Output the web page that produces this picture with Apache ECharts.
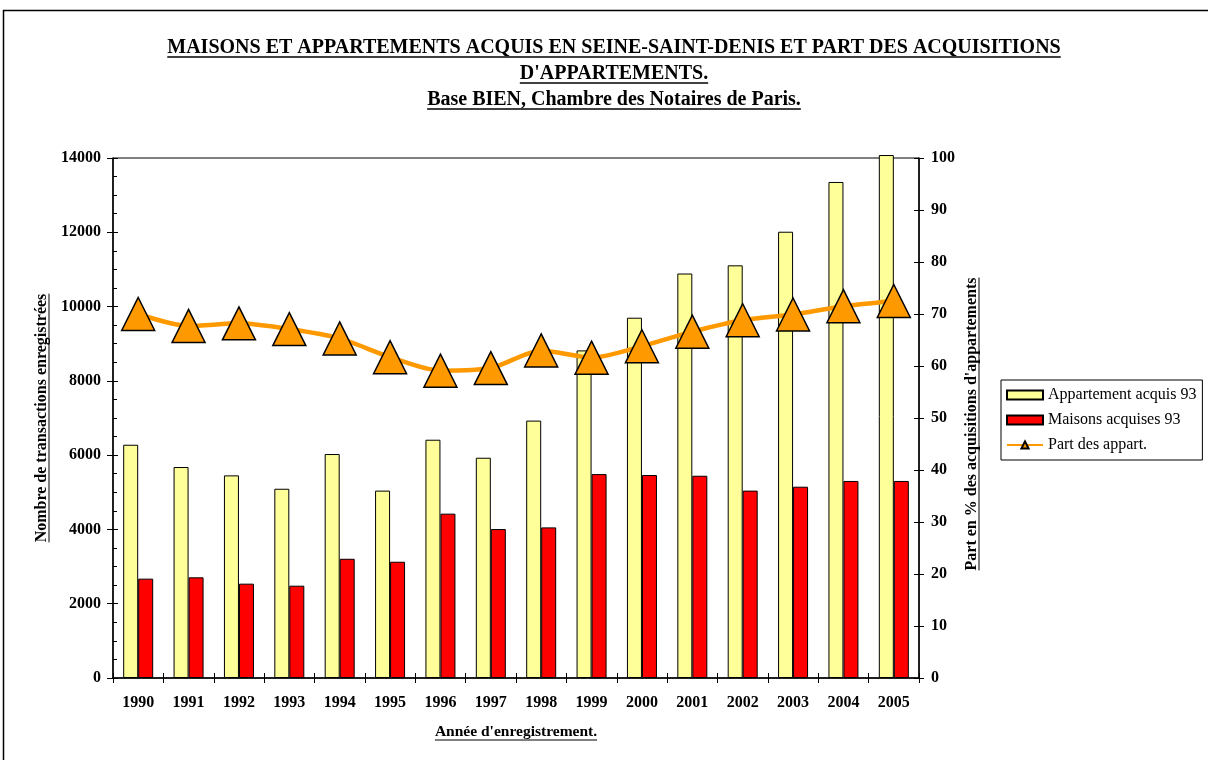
<!DOCTYPE html>
<html>
<head>
<meta charset="utf-8">
<script src="https://cdn.jsdelivr.net/npm/echarts@6/dist/echarts.min.js"></script>
<style>html,body{margin:0;padding:0;background:#fff;}#chart{width:1208px;height:760px;}</style>
</head>
<body>
<div id="chart"></div>
<script>
const years = ['1990','1991','1992','1993','1994','1995','1996','1997','1998','1999','2000','2001','2002','2003','2004','2005'];
const apparts = [6280, 5680, 5455, 5095, 6030, 5045, 6415, 5930, 6930, 8820, 9700, 10890, 11110, 12015, 13355, 14080];
const maisons = [2675, 2710, 2540, 2485, 3210, 3130, 4425, 4010, 4055, 5490, 5465, 5445, 5045, 5150, 5305, 5305];
const partAppart = [70.0, 67.7, 68.2, 67.1, 65.3, 61.7, 59.1, 59.6, 63.0, 61.6, 63.8, 66.6, 68.8, 69.9, 71.5, 72.5];

const titleLines = ["MAISONS ET APPARTEMENTS ACQUIS EN SEINE-SAINT-DENIS ET PART DES ACQUISITIONS", "D'APPARTEMENTS.", "Base BIEN, Chambre des Notaires de Paris."];
const leftName = "Nombre de transactions enregistrées";
const rightName = "Part en % des acquisitions d'appartements";
const xName = "Année d'enregistrement.";

const SERIF = '"Liberation Serif", "Times New Roman", serif';
const mctx = document.createElement('canvas').getContext('2d');
function measure(t, f){ mctx.font = f; return mctx.measureText(t).width; }

function underlined(text, size, cx, cy, vertical, ulOff, ulWidth){
  const font = 'bold ' + size + 'px ' + SERIF;
  const w = measure(text, font);
  const els = [];
  els.push({type:'text', x:cx, y:cy, rotation: vertical ? Math.PI/2 : 0, silent:true,
    style:{text:text, fontFamily:SERIF, fontWeight:'bold', fontSize:size, fill:'#000',
           textAlign:'center', textVerticalAlign:'middle', align:'center', verticalAlign:'middle'}});
  const lw = ulWidth || 1;
  if (vertical){
    els.push({type:'line', silent:true, shape:{x1:cx+ulOff, y1:cy-w/2, x2:cx+ulOff, y2:cy+w/2}, style:{stroke:'#000', lineWidth:lw}});
  } else {
    els.push({type:'line', silent:true, shape:{x1:cx-w/2, y1:cy+ulOff, x2:cx+w/2, y2:cy+ulOff}, style:{stroke:'#000', lineWidth:lw}});
  }
  return els;
}

let graphics = [{type:'rect', silent:true, z:-10, shape:{x:3.5, y:10.5, width:1300, height:800}, style:{fill:'none', stroke:'#000', lineWidth:1.5}}];
graphics = graphics.concat(underlined(titleLines[0], 20, 614, 48, false, 9, 1.5));
graphics = graphics.concat(underlined(titleLines[1], 20, 614, 74, false, 9, 1.5));
graphics = graphics.concat(underlined(titleLines[2], 20, 614, 100, false, 9, 1.5));
graphics = graphics.concat(underlined(leftName, 16, 42, 418, true, 7, 1));
graphics = graphics.concat(underlined(rightName, 16, 972, 424, true, 7, 1));
graphics = graphics.concat(underlined(xName, 15.5, 516, 732, false, 8, 1));

const lbl = {fontFamily: SERIF, fontWeight:'bold', fontSize:16, color:'#000'};

const chart = echarts.init(document.getElementById('chart'), null, {renderer:'canvas'});
chart.setOption({
  animation:false,
  backgroundColor:'#fff',
  graphic: graphics,
  grid:{left:113, right:289, top:158, bottom:82, show:true, borderColor:'#000', borderWidth:1, backgroundColor:'transparent'},
  legend:{
    orient:'vertical', left:1001, top:380, padding:[6,6,6,5],
    itemWidth:36, itemHeight:9, itemGap:7,
    borderColor:'#000', borderWidth:1, backgroundColor:'#fff',
    textStyle:{fontFamily:SERIF, fontSize:16, color:'#000', lineHeight:18},
    data:[{name:'Appartement acquis 93', icon:'rect'},{name:'Maisons acquises 93', icon:'rect'},{name:'Part des appart.'}]
  },
  xAxis:[
    {type:'category', data:years, position:'bottom', boundaryGap:true,
     axisLine:{show:true, lineStyle:{color:'#000', width:1.5}},
     axisTick:{show:true, interval:0, inside:false, length:5, lineStyle:{color:'#000'}},
     axisLabel:Object.assign({interval:0, margin:17}, lbl), splitLine:{show:false}},
    {type:'category', data:years, position:'bottom', boundaryGap:true,
     axisLine:{show:false},
     axisTick:{show:true, interval:0, inside:true, length:5, lineStyle:{color:'#000'}},
     axisLabel:{show:false}, splitLine:{show:false}}
  ],
  yAxis:[
    {type:'value', min:0, max:14000, interval:2000, position:'left',
     axisLine:{show:true, lineStyle:{color:'#000', width:1.5}},
     axisTick:{show:true, inside:true, length:5, lineStyle:{color:'#000'}},
     minorTick:{show:true, splitNumber:4, length:4, lineStyle:{color:'#000'}},
     splitLine:{show:false}, axisLabel:Object.assign({margin:12, formatter: v => String(v)}, lbl)},
    {type:'value', min:0, max:100, interval:10, position:'right',
     axisLine:{show:true, lineStyle:{color:'#000', width:1.5}},
     axisTick:{show:true, inside:false, length:5, lineStyle:{color:'#000'}},
     splitLine:{show:false}, axisLabel:Object.assign({margin:12}, lbl)},
    {type:'value', min:0, max:14000, interval:2000, position:'left',
     axisLine:{show:false}, axisTick:{show:true, inside:false, length:6, lineStyle:{color:'#000'}},
     splitLine:{show:false}, axisLabel:{show:false}},
    {type:'value', min:0, max:100, interval:10, position:'right',
     axisLine:{show:false}, axisTick:{show:true, inside:true, length:5, lineStyle:{color:'#000'}},
     splitLine:{show:false}, axisLabel:{show:false}}
  ],
  series:[
    {name:'Appartement acquis 93', type:'bar', data:apparts, barWidth:15, barGap:'0%', clip:false,
     itemStyle:{color:'#FFFF99', borderColor:'#000', borderWidth:1}},
    {name:'Maisons acquises 93', type:'bar', data:maisons, barWidth:15, barGap:'0%', clip:false,
     itemStyle:{color:'#FF0000', borderColor:'#000', borderWidth:1}},
    {name:'Part des appart.', type:'line', yAxisIndex:1, data:partAppart, smooth:0.25, z:5,
     symbol:'triangle', symbolSize:[33,33],
     itemStyle:{color:'#FF9900', borderColor:'#000', borderWidth:1.5},
     lineStyle:{color:'#FF9900', width:4.5}}
  ]
});
</script>
</body>
</html>
